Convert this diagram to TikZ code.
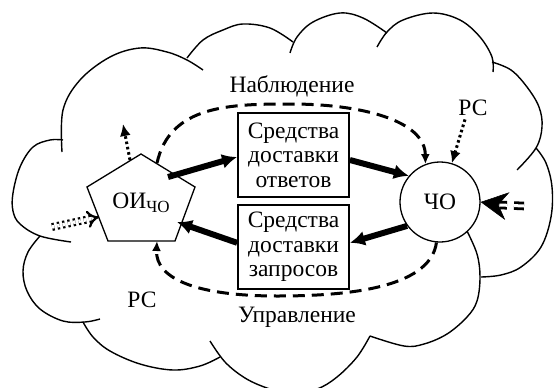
\documentclass[tikz,border=0pt]{standalone}
\usepackage{fontspec}
\setmainfont{Liberation Serif}
\usetikzlibrary{arrows.meta, positioning}
\tikzset{
    every node/.style={font=\fontsize{23.5}{24.5}\selectfont},
    chbox/.style={draw, line width=1.8pt, minimum width=111pt, minimum height=84pt, align=center, inner sep=0pt},
    hub/.style={draw, circle, line width=1.3pt, minimum size=80pt, inner sep=0pt},
    flow/.style={line width=6pt, -{Latex[length=15pt,width=15pt]}},
    loopline/.style={line width=3pt, dash pattern=on 12pt off 7pt, -{Latex[length=10pt,width=9pt]}},
    dots/.style={line width=3pt, dash pattern=on 2.6pt off 2.8pt, -{Latex[length=12pt,width=11pt]}},
    dbl/.style={double, double distance=3pt, line width=2.8pt},
    bump/.style={line width=1.4pt, smooth, tension=0.6},
}

\begin{document}
\begin{tikzpicture}[x=1pt, y=-1pt]
    \useasboundingbox (0,0) rectangle (554,388);

    % cloud
    \draw[bump] plot coordinates {(63,140) (50,140) (33,147) (20,167) (13,193) (13,211) (20,224) (40,236) (71,242)};
    \draw[bump] plot coordinates {(62,152) (63,110) (80,80) (110,57) (140,48) (167,52) (187,60) (203,70)};
    \draw[bump] plot coordinates {(187,58) (203,40) (223,30) (243,24) (270,28) (293,42)};
    \draw[bump] plot coordinates {(290,53) (297,37) (313,22) (340,13) (363,18) (387,33)};
    \draw[bump] plot coordinates {(377,47) (387,32) (403,20) (433,13) (460,20) (480,37) (492,57) (493,72)};
    \draw[bump] plot coordinates {(492,62) (511,70) (527,87) (539,107) (542,127) (536,148) (517,170)};
    \draw[bump] plot coordinates {(536,148) (546,163) (552,187) (551,217) (541,247) (521,267) (501,275) (481,277)};
    \draw[bump] plot coordinates {(467,231) (477,254) (480,277) (477,301) (467,317) (447,334) (424,344) (404,346) (370,336)};
    \draw[bump] plot coordinates {(370,336) (357,357) (337,377) (317,389) (290,394) (267,388) (245,378) (225,362) (210,341)};
    \draw[bump] plot coordinates {(83,322) (93,337) (110,351) (140,364) (173,370) (200,366) (220,357)};
    \draw[bump] plot coordinates {(40,236) (28,252) (23,271) (27,291) (40,309) (63,321) (85,322) (100,319)};

    % pentagon
    \coordinate (p1) at (141,154);
    \coordinate (p2) at (195,187);
    \coordinate (p3) at (175,241);
    \coordinate (p4) at (108,241);
    \coordinate (p5) at (87,187);
    \draw[line width=1.3pt] (p1) -- (p2) -- (p3) -- (p4) -- (p5) -- cycle;
    \node (oi) at (141,203) {ОИ\raisebox{-0.4ex}{\fontsize{17}{17}\selectfont ЧО}};

    \node[chbox] (otv) at (293.5,155) {Средства\\доставки\\ответов};
    \node[chbox, below=6pt of otv] (zap) {Средства\\доставки\\запросов};
    \node[hub] (cho) at (440,202) {ЧО};

    \node (nabl) at (292,86) {Наблюдение};
    \node (upr) at (297,317) {Управление};
    \node (rs1) at (142,300) {РС};
    \node (rs2) at (473,108) {РС};

    \coordinate (oi-out) at (168,177);
    \coordinate (oi-in) at (177,222);
    \coordinate (oi-top) at (157,163);
    \coordinate (oi-bot) at (157,241);
    \coordinate (oi-up) at (130,160);
    \coordinate (oi-left) at (99,217);
    \coordinate (up-end) at (123,124);
    \coordinate (ext-l) at (52,227);
    \coordinate (ext-r) at (524,206);
    \coordinate (notch) at (500,205);

    % main flows
    \draw[flow] (oi-out) -- ([yshift=-2pt]otv.west);
    \draw[flow] ([yshift=-5pt]otv.east) -- (cho.140);
    \draw[flow] (cho.216) -- ([yshift=4pt]zap.east);
    \draw[flow] ([yshift=4pt]zap.west) -- (oi-in);

    % loop
    \draw[loopline] (oi-top) .. controls (170,105) and (230,104) .. (291,104)
        .. controls (360,104) and (425,120) .. (cho.111);
    \draw[loopline] (cho.265) .. controls (430,290) and (340,296) .. (277,296)
        .. controls (200,296) and (155,280) .. (oi-bot);

    % disturbances
    \draw[dots] ([xshift=-8pt]rs2.south) -- (cho.73);
    \draw[dots] (oi-up) -- (up-end);
    \draw[dbl, dash pattern=on 10pt off 7pt] (ext-r) -- (notch);
    \draw[line width=0.5pt, -{Stealth[length=27pt,width=28pt,inset=9pt]}] (notch) -- (cho.east);
    \draw[dbl, line width=2.2pt, double distance=3.5pt, dash pattern=on 2.4pt off 3pt, -{Implies}] (ext-l) -- (oi-left);
\end{tikzpicture}
\end{document}
